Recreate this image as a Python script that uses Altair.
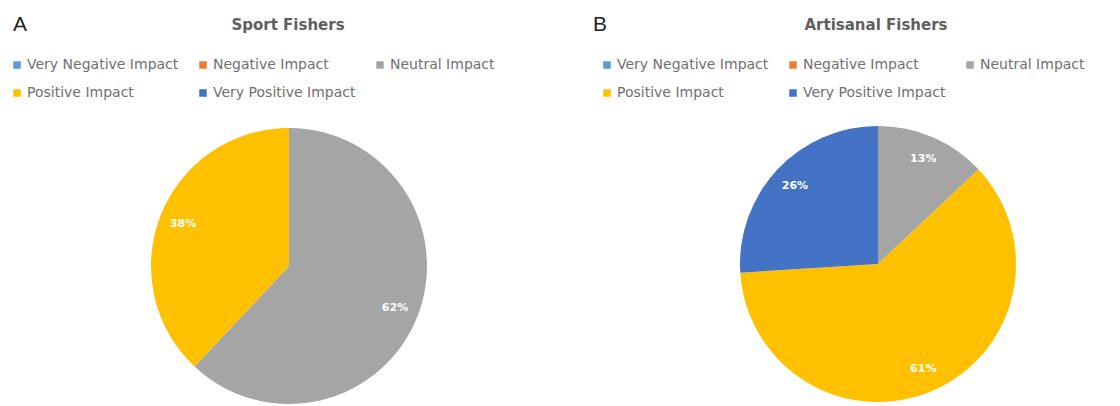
import altair as alt
import pandas as pd

categories = ["Very Negative Impact", "Negative Impact", "Neutral Impact",
              "Positive Impact", "Very Positive Impact"]
colors = ["#5B9BD5", "#ED7D31", "#A5A5A5", "#FFC000", "#4472C4"]
sport_values = [0, 0, 62, 38, 0]
artisanal_values = [0, 0, 13, 61, 26]
panel_letters = ["A", "B"]
panel_titles = ["Sport Fishers", "Artisanal Fishers"]

FONT = "DejaVu Sans"


def panel(values, letter, title, width, cx, cy, legend_x, title_x):
    df = pd.DataFrame({"category": categories, "value": values,
                       "idx": list(range(len(categories)))})
    base = alt.Chart(df)
    color = alt.Color(
        "category:N",
        scale=alt.Scale(domain=categories, range=colors),
        legend=alt.Legend(
            orient="none", legendX=legend_x, legendY=50,
            direction="horizontal", columns=3, title=None,
            symbolType="square", symbolSize=56, symbolStrokeWidth=0,
            labelFont=FONT, labelFontSize=14, labelColor="#707070",
            labelLimit=400, columnPadding=17, rowPadding=14, labelOffset=3,
        ),
    )
    theta = alt.Theta("value:Q", stack=True)
    order = alt.Order("idx:Q")
    arcs = base.mark_arc(radius=138).encode(
        theta=theta, order=order, color=color,
        x=alt.value(cx), y=alt.value(cy),
    )
    labels = base.transform_filter("datum.value > 0").transform_calculate(
        lbl="datum.value + '%'"
    ).mark_text(radius=114, font=FONT, fontSize=11, fontWeight="bold",
                color="white").encode(
        theta=theta, order=order, text="lbl:N",
        x=alt.value(cx), y=alt.value(cy),
    )
    tdf = pd.DataFrame({"letter": [letter], "title": [title]})
    letter_mark = alt.Chart(tdf).mark_text(
        font="Liberation Sans", fontSize=21, color="#222222", align="left",
        baseline="middle"
    ).encode(text="letter:N", x=alt.value(5), y=alt.value(17))
    title_mark = alt.Chart(tdf).mark_text(
        font=FONT, fontSize=15, fontWeight="bold", color="#5f5f5f",
        align="center", baseline="middle"
    ).encode(text="title:N", x=alt.value(title_x), y=alt.value(17))
    return alt.layer(arcs, labels, letter_mark, title_mark).properties(
        width=width, height=390
    )


left = panel(sport_values, panel_letters[0], panel_titles[0], 580, 281, 258, 2, 280)
right = panel(artisanal_values, panel_letters[1], panel_titles[1], 524, 290, 256, 12, 288)

chart = alt.hconcat(left, right, spacing=0).resolve_scale(
    color="independent", theta="independent"
).properties(padding=0).configure_view(stroke=None)

chart.save("out.html", embed_options={"renderer": "svg", "actions": False})
